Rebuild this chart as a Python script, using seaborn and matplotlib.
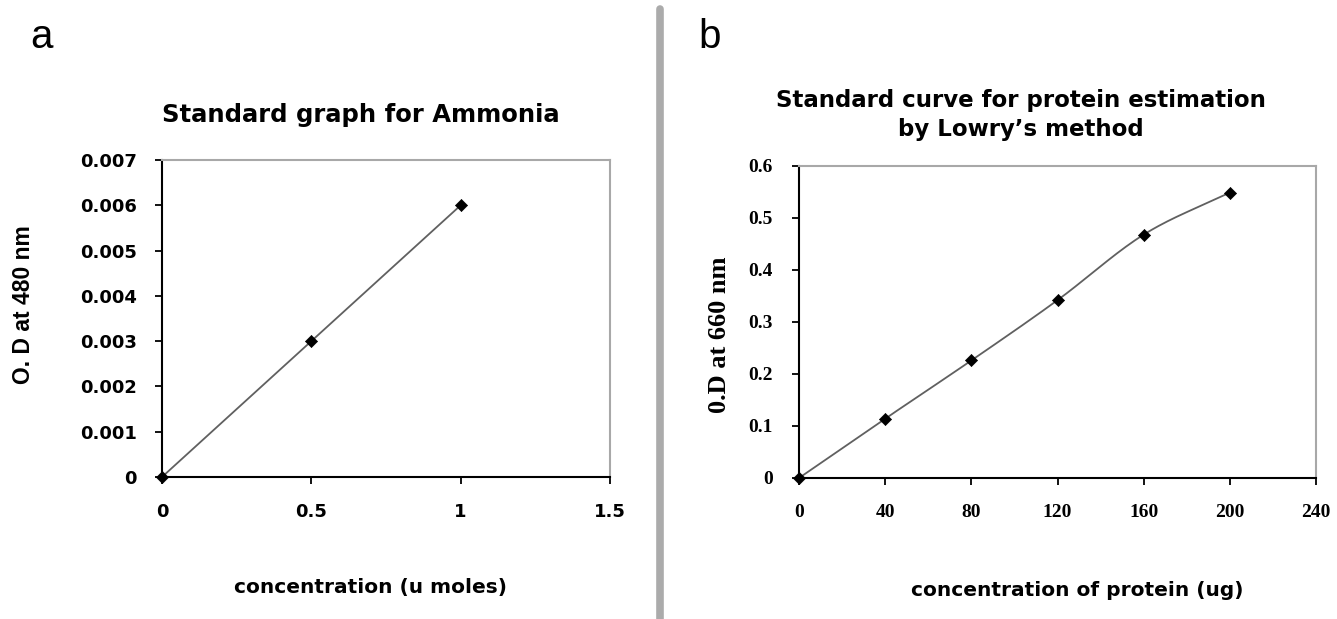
import numpy as np
import pandas as pd
import matplotlib
matplotlib.use("Agg")
import matplotlib.pyplot as plt
import seaborn as sns
from matplotlib.lines import Line2D

# panel a: ammonia standard
ammonia_conc = [0, 0.5, 1.0]
ammonia_od = [0, 0.003, 0.006]

# panel b: Lowry protein standard
protein_conc = [0, 40, 80, 120, 160, 200]
protein_od = [0, 0.114, 0.226, 0.342, 0.468, 0.549]

sns.set_style("white")
plt.rcParams['font.family'] = ['DejaVu Sans']
plt.rcParams['text.color'] = 'black'

WIDE = 'DejaVu Sans'
NARROW = 'Liberation Sans'
SERIF = 'Liberation Serif'


def smooth(x, y, n=30):
    """Catmull-Rom style smoothing like Excel's smoothed line."""
    x = np.asarray(x, float)
    y = np.asarray(y, float)
    px = np.concatenate([[2 * x[0] - x[1]], x, [2 * x[-1] - x[-2]]])
    py = np.concatenate([[2 * y[0] - y[1]], y, [2 * y[-1] - y[-2]]])
    xs, ys = [], []
    t = np.linspace(0, 1, n)
    for i in range(1, len(px) - 2):
        for p, out in ((px, xs), (py, ys)):
            p0, p1, p2, p3 = p[i - 1], p[i], p[i + 1], p[i + 2]
            out.extend(0.5 * ((2 * p1) + (-p0 + p2) * t
                              + (2 * p0 - 5 * p1 + 4 * p2 - p3) * t ** 2
                              + (-p0 + 3 * p1 - 3 * p2 + p3) * t ** 3))
    return np.array(xs), np.array(ys)


def style_axes(ax, tick_font, tick_size, xpad, ypad):
    for side in ('left', 'bottom'):
        ax.spines[side].set_color('black')
        ax.spines[side].set_linewidth(1.5)
    for side in ('top', 'right'):
        ax.spines[side].set_color('#a8a8a8')
        ax.spines[side].set_linewidth(1.5)
    ax.tick_params(direction='out', length=5, width=1.3, color='black',
                   left=True, bottom=True, labelcolor='black')
    ax.tick_params(axis='x', pad=xpad)
    ax.tick_params(axis='y', pad=ypad)
    for lab in ax.get_xticklabels() + ax.get_yticklabels():
        lab.set_fontfamily(tick_font)
        lab.set_fontweight('bold')
        lab.set_fontsize(tick_size)


fig = plt.figure(figsize=(13.37, 6.19), dpi=100)
fig.patch.set_facecolor('white')

# ---- panel a ----
ax1 = fig.add_axes([162 / 1337, 1 - 477 / 619, 448 / 1337, 317 / 619])
df_a = pd.DataFrame({'conc': ammonia_conc, 'od': ammonia_od})
sns.lineplot(data=df_a, x='conc', y='od', ax=ax1, color='#606060', linewidth=1.3)
sns.scatterplot(data=df_a, x='conc', y='od', ax=ax1, marker='D', s=38,
                color='black', edgecolor='black', zorder=5, clip_on=False)
ax1.set_xlim(0, 1.5)
ax1.set_ylim(0, 0.007)
ax1.set_xticks([0, 0.5, 1, 1.5])
ax1.set_xticklabels(['0', '0.5', '1', '1.5'])
ax1.set_yticks(np.arange(0, 0.0071, 0.001))
ax1.set_yticklabels(['0', '0.001', '0.002', '0.003', '0.004', '0.005', '0.006', '0.007'])
style_axes(ax1, WIDE, 13, 14, 13)
ax1.set_xlabel('')
ax1.set_ylabel('')
fig.text(361 / 1337, 1 - 115 / 619, 'Standard graph for Ammonia', ha='center', va='center',
         fontsize=17.5, fontweight='bold', family=WIDE)
fig.text(24 / 1337, 1 - 305 / 619, 'O. D at 480 nm', rotation=90, ha='center', va='center',
         fontsize=16.5, fontweight='bold', family=NARROW)
fig.text(370 / 1337, 1 - 587 / 619, 'concentration (u moles)', ha='center', va='center',
         fontsize=14.5, fontweight='bold', family=WIDE)
fig.text(30 / 1337, 1 - 48 / 619, 'a', ha='left', va='baseline', fontsize=29, family='Liberation Sans')

# ---- panel b ----
ax2 = fig.add_axes([799 / 1337, 1 - 478 / 619, 517 / 1337, 312 / 619])
bx, by = smooth(protein_conc, protein_od)
ax2.plot(bx, by, color='#606060', linewidth=1.3)
df_b = pd.DataFrame({'conc': protein_conc, 'od': protein_od})
sns.scatterplot(data=df_b, x='conc', y='od', ax=ax2, marker='D', s=38,
                color='black', edgecolor='black', zorder=5, clip_on=False)
ax2.set_xlim(0, 240)
ax2.set_ylim(0, 0.6)
ax2.set_xticks(range(0, 241, 40))
ax2.set_yticks(np.arange(0, 0.61, 0.1))
ax2.set_yticklabels(['0', '0.1', '0.2', '0.3', '0.4', '0.5', '0.6'])
style_axes(ax2, SERIF, 14, 14, 14)
ax2.set_xlabel('')
ax2.set_ylabel('')
fig.text(1021 / 1337, 1 - 115 / 619, 'Standard curve for protein estimation\nby Lowry\u2019s method',
         ha='center', va='center', fontsize=16.5, fontweight='bold', family=WIDE,
         linespacing=1.3)
fig.text(720 / 1337, 1 - 335 / 619, '0.D at 660 nm', rotation=90, ha='center', va='center',
         fontsize=19, fontweight='bold', family=SERIF)
fig.text(1077 / 1337, 1 - 590 / 619, 'concentration of protein (ug)', ha='center', va='center',
         fontsize=14.5, fontweight='bold', family=WIDE)
fig.text(698 / 1337, 1 - 48 / 619, 'b', ha='left', va='baseline', fontsize=29, family='Liberation Sans')

# vertical divider
fig.add_artist(Line2D([660 / 1337, 660 / 1337], [0.0, 1 - 9 / 619], transform=fig.transFigure,
                      color='#ababab', linewidth=5.5))

fig.savefig('out.png', dpi=100, facecolor='white')
